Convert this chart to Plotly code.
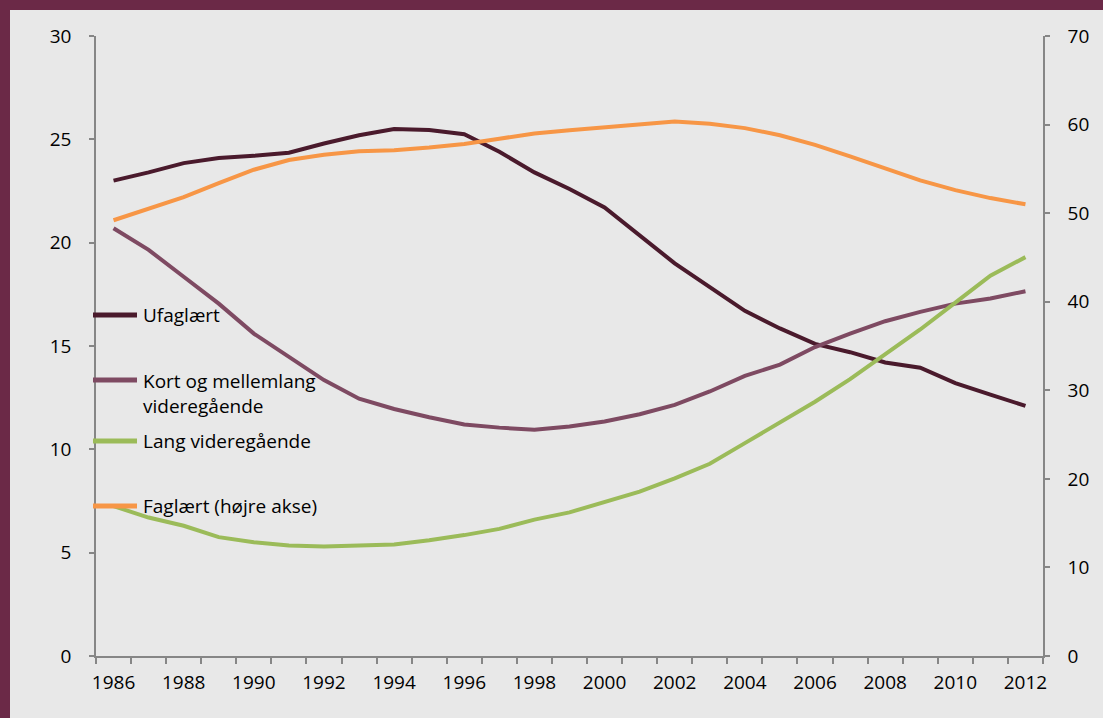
import plotly.graph_objects as go

years = [str(y) for y in range(1986, 2013)]
tick_labels = [y if int(y) % 2 == 0 else "" for y in years]

ufaglaert = [23.0, 23.4, 23.85, 24.1, 24.2, 24.35, 24.8, 25.2, 25.5, 25.45, 25.25, 24.4, 23.4,
             22.6, 21.7, 20.35, 19.0, 17.85, 16.7, 15.85, 15.1, 14.7, 14.2, 13.95, 13.2, 12.65, 12.1]
kort_mellemlang = [20.7, 19.65, 18.35, 17.05, 15.6, 14.45, 13.35, 12.45, 11.95, 11.55, 11.2, 11.05, 10.95,
                   11.1, 11.35, 11.7, 12.15, 12.8, 13.55, 14.1, 14.95, 15.6, 16.2, 16.65, 17.05, 17.3, 17.65]
lang_videregaaende = [7.25, 6.7, 6.3, 5.75, 5.5, 5.35, 5.3, 5.35, 5.4, 5.6, 5.85, 6.15, 6.6,
                      6.95, 7.45, 7.95, 8.6, 9.3, 10.3, 11.3, 12.3, 13.4, 14.6, 15.8, 17.1, 18.4, 19.3]
faglaert = [49.2, 50.5, 51.8, 53.4, 54.9, 56.0, 56.6, 57.0, 57.1, 57.4, 57.8, 58.4, 59.0,
            59.35, 59.7, 60.05, 60.35, 60.1, 59.6, 58.8, 57.7, 56.4, 55.0, 53.7, 52.6, 51.7, 51.0]

names = ["Ufaglært", "Kort og mellemlang<br>videregående", "Lang videregående", "Faglært (højre akse)"]
colors = ["#4a1a2c", "#7e4a62", "#9bbb59", "#f79646"]

W, H = 1103, 718
ML, MR, MT, MB = 96, 60, 36, 62
PW, PH = W - ML - MR, H - MT - MB

fig = go.Figure()
for vals, name, col, ax in [
    (ufaglaert, names[0], colors[0], "y"),
    (kort_mellemlang, names[1], colors[1], "y"),
    (lang_videregaaende, names[2], colors[2], "y"),
    (faglaert, names[3], colors[3], "y2"),
]:
    fig.add_trace(go.Scatter(x=years, y=vals, name=name, mode="lines", yaxis=ax,
                             line=dict(color=col, width=4), showlegend=False))

font = "Open Sans, Lato, sans-serif"
axcol = "#868686"
tf = dict(size=19)
fig.update_layout(
    width=W, height=H,
    margin=dict(l=ML, r=MR, t=MT, b=MB),
    paper_bgcolor="#e8e8e8", plot_bgcolor="#e8e8e8",
    font=dict(family=font, size=19, color="#000000"),
    xaxis=dict(type="category", range=[-0.5, len(years) - 0.5], tickmode="array",
               tickvals=years, ticktext=tick_labels,
               tickson="boundaries", ticks="outside", ticklen=6, tickcolor=axcol, tickwidth=1.5,
               showline=True, linecolor=axcol, linewidth=1.5, showgrid=False, zeroline=False,
               tickangle=0, ticklabelstandoff=8, tickfont=tf),
    yaxis=dict(range=[0, 30], dtick=5, ticks="outside", ticklen=5, tickcolor=axcol, tickwidth=1.5,
               showline=True, linecolor=axcol, linewidth=1.5, showgrid=False, zeroline=False,
               ticklabelstandoff=14, tickfont=tf),
    yaxis2=dict(range=[0, 70], dtick=10, overlaying="y", side="right", ticks="outside", ticklen=5,
                tickcolor=axcol, tickwidth=1.5, showline=True, linecolor=axcol, linewidth=1.5,
                showgrid=False, zeroline=False, ticklabelstandoff=14, tickfont=tf),
)

def px_x(p):
    return (p - ML) / PW

def px_y(p):
    return 1 - (p - MT) / PH

border = "#6b2947"
fig.add_shape(type="rect", xref="paper", yref="paper", x0=px_x(0), x1=px_x(10), y0=px_y(H), y1=px_y(0),
              fillcolor=border, line_width=0, layer="above")
fig.add_shape(type="rect", xref="paper", yref="paper", x0=px_x(0), x1=px_x(W), y0=px_y(10), y1=px_y(0),
              fillcolor=border, line_width=0, layer="above")

legend_y = [315, 380, 441, 506]
for name, col, yy in zip(names, colors, legend_y):
    fig.add_shape(type="line", xref="paper", yref="paper", x0=px_x(93), x1=px_x(137),
                  y0=px_y(yy), y1=px_y(yy), line=dict(color=col, width=5), layer="above")
    if "<br>" in name:
        fig.add_annotation(xref="paper", yref="paper", x=px_x(141), y=px_y(yy - 14), text=name,
                           showarrow=False, xanchor="left", yanchor="top", align="left",
                           font=dict(size=19))
    else:
        fig.add_annotation(xref="paper", yref="paper", x=px_x(141), y=px_y(yy), text=name,
                           showarrow=False, xanchor="left", yanchor="middle", align="left",
                           font=dict(size=19))

fig.write_html("out.html", config={"displayModeBar": False},
               post_script="document.body.style.margin='0';")
